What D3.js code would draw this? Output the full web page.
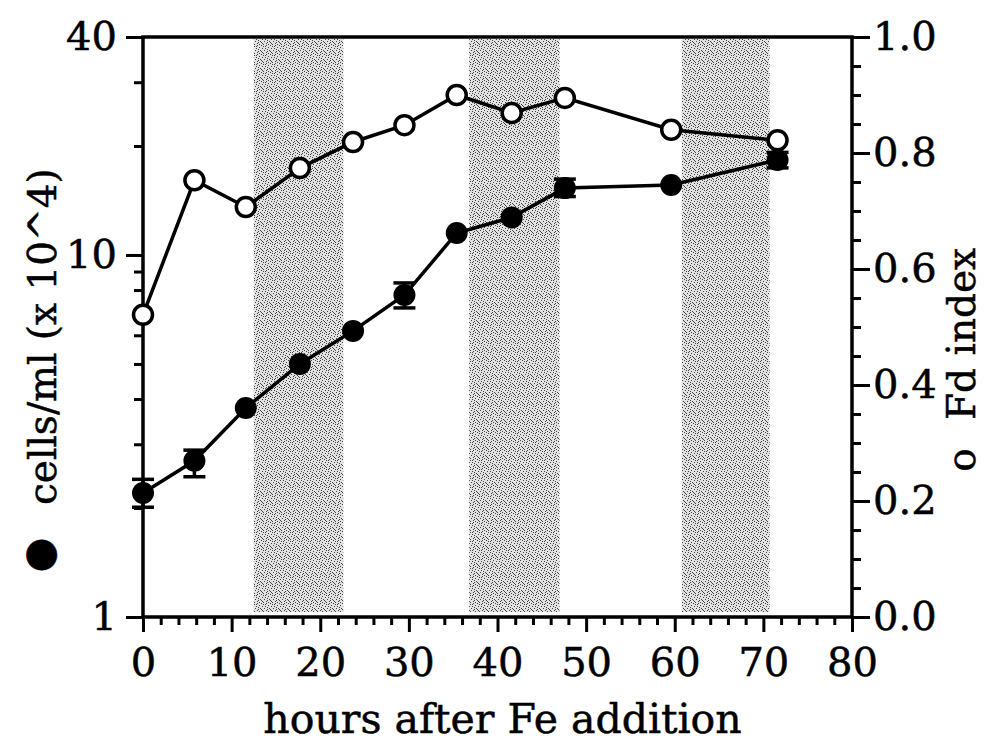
<!DOCTYPE html>
<html><head><meta charset="utf-8">
<script src="https://cdn.jsdelivr.net/npm/d3@7"></script>
<style>body{margin:0;background:#fff}svg{display:block}</style>
</head><body>
<svg id="c" width="987" height="742"></svg>
<script>
// ---- data ----
const hours = [0, 5.8, 11.6, 17.7, 23.7, 29.5, 35.4, 41.6, 47.6, 59.6, 71.6];
const cells = [2.20, 2.70, 3.78, 5.0, 6.17, 7.75, 11.5, 12.7, 15.3, 15.6, 18.3];
const cellsErrLow  = [2.01, 2.44, null, null, null, 7.14, null, null, 14.5, null, 17.4];
const cellsErrHigh = [2.40, 2.89, null, null, null, 8.37, null, null, 16.2, null, 19.2];
const fdIndex = [0.521, 0.753, 0.707, 0.774, 0.819, 0.848, 0.900, 0.869, 0.895, 0.840, 0.822];
const darkStart = [12.5, 36.8, 60.8];
const darkEnd   = [22.6, 47.0, 70.7];
const xMajor = [0, 10, 20, 30, 40, 50, 60, 70, 80];
const xMinor = [2, 4, 6, 8, 12, 14, 16, 18, 22, 24, 26, 28, 32, 34, 36, 38, 42, 44, 46, 48, 52, 54, 56, 58, 62, 64, 66, 68, 72, 74, 76, 78];
const leftMajor = [1, 10, 40];
const leftMinor = [2, 3, 4, 5, 6, 7, 8, 9, 20, 30];
const rightMajor = [0, 0.2, 0.4, 0.6, 0.8, 1.0];
const rightMinor = [0.05, 0.1, 0.15, 0.25, 0.3, 0.35, 0.45, 0.5, 0.55, 0.65, 0.7, 0.75, 0.85, 0.9, 0.95];

// ---- layout ----
const L = 143, R = 852, T = 37, B = 617;
const FONT = "'DejaVu Serif', 'Liberation Serif', serif";
const svg = d3.select("#c");

const x = d3.scaleLinear().domain([0, 80]).range([L, R]);
const yL = d3.scaleLog().domain([1, 40]).range([B, T]);
const yR = d3.scaleLinear().domain([0, 1]).range([B, T]);

// stipple pattern for dark periods
const defs = svg.append("defs");
const pat = defs.append("pattern").attr("id", "stip").attr("patternUnits", "userSpaceOnUse")
  .attr("width", 9).attr("height", 9);
pat.append("rect").attr("width", 9).attr("height", 9).attr("fill", "#e2e2e2");
const dots = [[0,0],[2,1],[5,0],[7,2],[1,3],[4,3],[6,4],[8,5],[0,6],[3,5],[5,7],[2,8],[7,8],[4,1],[1,7],[6,6]];
pat.selectAll("rect.d").data(dots).enter().append("rect").attr("class", "d")
  .attr("x", d => d[0]).attr("y", d => d[1]).attr("width", 1).attr("height", 1).attr("fill", "#444");

svg.selectAll("rect.band").data(darkStart).enter().append("rect").attr("class", "band")
  .attr("x", (d, i) => x(d)).attr("width", (d, i) => x(darkEnd[i]) - x(d))
  .attr("y", T + 2).attr("height", B - T - 7)
  .attr("fill", "url(#stip)");

// ---- axes ----
function styleAxis(g, fs) {
  g.select(".domain").remove();
  g.selectAll(".tick line").attr("stroke", "#000").attr("stroke-width", 3);
  g.selectAll("text").attr("font-family", FONT).attr("font-size", fs).attr("fill", "#000")
    .attr("stroke", "#000").attr("stroke-width", 0.5);
}
// x axis
svg.append("g").attr("transform", `translate(0,${B})`)
  .call(d3.axisBottom(x).tickValues(xMinor).tickSize(8).tickFormat(""))
  .call(g => styleAxis(g, 40));
svg.append("g").attr("transform", `translate(0,${B})`)
  .call(d3.axisBottom(x).tickValues(xMajor).tickSize(15).tickPadding(16).tickFormat(d3.format("d")))
  .call(g => styleAxis(g, 40));
// left axis
svg.append("g").attr("transform", `translate(${L},0)`)
  .call(d3.axisLeft(yL).tickValues(leftMinor).tickSize(9).tickFormat(""))
  .call(g => styleAxis(g, 40));
svg.append("g").attr("transform", `translate(${L},0)`)
  .call(d3.axisLeft(yL).tickValues(leftMajor).tickSize(17).tickPadding(9).tickFormat(d3.format("d")))
  .call(g => styleAxis(g, 40));
// right axis
svg.append("g").attr("transform", `translate(${R},0)`)
  .call(d3.axisRight(yR).tickValues(rightMinor).tickSize(9).tickFormat(""))
  .call(g => styleAxis(g, 40));
svg.append("g").attr("transform", `translate(${R},0)`)
  .call(d3.axisRight(yR).tickValues(rightMajor).tickSize(18).tickPadding(3).tickFormat(d3.format(".1f")))
  .call(g => styleAxis(g, 40));

// frame
svg.append("path")
  .attr("d", `M${L},${T}L${R},${T}L${R},${B}L${L},${B}Z`)
  .attr("fill", "none").attr("stroke", "#000").attr("stroke-width", 3.5);

// ---- axis titles ----
function title(sel) {
  return sel.attr("font-family", FONT).attr("fill", "#000").attr("stroke", "#000").attr("stroke-width", 0.5);
}
title(svg.append("text")).attr("x", (L + R) / 2 + 5).attr("y", 733).attr("text-anchor", "middle")
  .attr("font-size", 41).text("hours after Fe addition");
title(svg.append("text")).attr("transform", "translate(56,505) rotate(-90)").attr("text-anchor", "start")
  .attr("font-size", 39).text("cells/ml (x 10^4)");
title(svg.append("text")).attr("transform", "translate(52,555) rotate(-90)").attr("text-anchor", "middle")
  .attr("font-size", 40).text("●");
title(svg.append("text")).attr("transform", "translate(975,420) rotate(-90)").attr("text-anchor", "start")
  .attr("font-size", 39).text("Fd index");
title(svg.append("text")).attr("transform", "translate(975,460) rotate(-90)").attr("text-anchor", "middle")
  .attr("font-size", 39).text("o");

// ---- series ----
const idx = d3.range(hours.length);
svg.append("path").datum(idx)
  .attr("d", d3.line().x(i => x(hours[i])).y(i => yR(fdIndex[i])))
  .attr("fill", "none").attr("stroke", "#000").attr("stroke-width", 3.5);
svg.append("path").datum(idx)
  .attr("d", d3.line().x(i => x(hours[i])).y(i => yL(cells[i])))
  .attr("fill", "none").attr("stroke", "#000").attr("stroke-width", 3.5);

// error bars
const eb = svg.append("g").attr("stroke", "#000").attr("stroke-width", 3.5);
idx.filter(i => cellsErrLow[i] != null).forEach(i => {
  const cx = x(hours[i]), y1 = yL(cellsErrLow[i]), y2 = yL(cellsErrHigh[i]);
  eb.append("line").attr("x1", cx).attr("x2", cx).attr("y1", y1).attr("y2", y2);
  eb.append("line").attr("x1", cx - 11).attr("x2", cx + 11).attr("y1", y1).attr("y2", y1);
  eb.append("line").attr("x1", cx - 11).attr("x2", cx + 11).attr("y1", y2).attr("y2", y2);
});

svg.selectAll("circle.fd").data(idx).enter().append("circle").attr("class", "fd")
  .attr("cx", i => x(hours[i])).attr("cy", i => yR(fdIndex[i])).attr("r", 9.5)
  .attr("fill", "#fff").attr("stroke", "#000").attr("stroke-width", 3.5);
svg.selectAll("circle.cells").data(idx).enter().append("circle").attr("class", "cells")
  .attr("cx", i => x(hours[i])).attr("cy", i => yL(cells[i])).attr("r", 11)
  .attr("fill", "#000");
</script>
</body></html>
